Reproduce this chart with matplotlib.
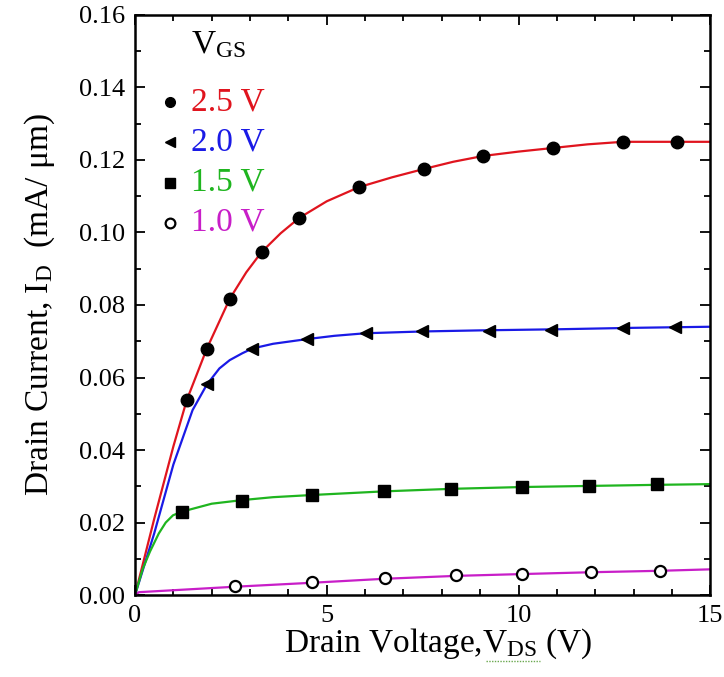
import matplotlib
matplotlib.use("Agg")
import matplotlib.pyplot as plt
from matplotlib.ticker import MultipleLocator, FormatStrFormatter
from matplotlib.lines import Line2D

plt.rcParams['font.family'] = ['Liberation Serif', 'DejaVu Serif']
plt.rcParams['mathtext.fontset'] = 'custom'
plt.rcParams['mathtext.rm'] = 'Liberation Serif'
plt.rcParams['mathtext.it'] = 'Liberation Serif:italic'

# Gate voltages and colours
vgs_labels = ["2.5 V", "2.0 V", "1.5 V", "1.0 V"]
colors = ["#e0141e", "#1a1ae6", "#1fb51f", "#c81ec8"]
markers = ["o", "<", "s", "o"]

# Measured points (V_DS in V, I_D in mA/um)
meas_x_25 = [1.35, 1.87, 2.47, 3.30, 4.28, 5.84, 7.53, 9.08, 10.90, 12.72, 14.14]
meas_y_25 = [0.0538, 0.0679, 0.0817, 0.0946, 0.1040, 0.1125, 0.1175, 0.1211, 0.1233, 0.1250, 0.1250]
meas_x_20 = [1.87, 3.06, 4.49, 6.02, 7.48, 9.22, 10.85, 12.72, 14.09]
meas_y_20 = [0.0582, 0.0679, 0.0706, 0.0723, 0.0728, 0.0728, 0.0731, 0.0737, 0.0739]
meas_x_15 = [1.22, 2.80, 4.62, 6.49, 8.25, 10.10, 11.83, 13.60]
meas_y_15 = [0.0229, 0.0259, 0.0276, 0.0287, 0.0292, 0.0298, 0.0301, 0.0306]
meas_x_10 = [2.60, 4.62, 6.51, 8.38, 10.10, 11.89, 13.70]
meas_y_10 = [0.0025, 0.0036, 0.0047, 0.0055, 0.0058, 0.0063, 0.0066]

# Model curves
model_x_25 = [0, 0.5, 1.0, 1.35, 1.87, 2.47, 2.9, 3.3, 3.8, 4.28, 5.0, 5.84, 6.7, 7.53, 8.3, 9.08, 10.0, 10.9, 11.8, 12.72, 15]
model_y_25 = [0, 0.021, 0.041, 0.0538, 0.0679, 0.0817, 0.0890, 0.0946, 0.0998, 0.1040, 0.1086, 0.1125, 0.1152, 0.1175, 0.1195, 0.1211, 0.1223, 0.1233, 0.1243, 0.1250, 0.1250]
model_x_20 = [0, 0.5, 1.0, 1.5, 1.87, 2.2, 2.47, 2.8, 3.06, 3.6, 4.49, 5.2, 6.0, 7.5, 9.0, 11.0, 13.0, 15]
model_y_20 = [0, 0.017, 0.036, 0.051, 0.058, 0.0625, 0.0648, 0.0667, 0.0680, 0.0693, 0.0706, 0.0715, 0.0722, 0.0727, 0.0730, 0.0733, 0.0737, 0.0740]
model_x_15 = [0, 0.2, 0.39, 0.62, 0.8, 0.99, 1.22, 2.0, 2.8, 3.6, 4.62, 6.49, 8.25, 10.1, 11.83, 13.6, 15]
model_y_15 = [0, 0.0072, 0.0120, 0.0170, 0.0200, 0.0220, 0.0230, 0.0252, 0.0262, 0.0270, 0.0276, 0.0286, 0.0293, 0.0298, 0.0301, 0.0304, 0.0306]
model_x_10 = [0, 0.1, 2.6, 4.62, 6.51, 8.38, 10.1, 11.89, 13.7, 15]
model_y_10 = [0, 0.0008, 0.0023, 0.0034, 0.0045, 0.0053, 0.0058, 0.0063, 0.0067, 0.0071]

meas = [(meas_x_25, meas_y_25), (meas_x_20, meas_y_20), (meas_x_15, meas_y_15), (meas_x_10, meas_y_10)]
models = [(model_x_25, model_y_25), (model_x_20, model_y_20), (model_x_15, model_y_15), (model_x_10, model_y_10)]

fig = plt.figure(figsize=(7.24, 6.77), dpi=100)
ax = fig.add_axes([0.1865, 0.121, 0.7945, 0.857])


def marker_style(i, size):
    if i == 3:
        return dict(ls="none", marker="o", ms=size, mfc="white", mec="black", mew=1.6)
    return dict(ls="none", marker=markers[i], ms=size, color="black")


marker_sizes = [9, 9, 8, 8]
for i in range(4):
    mx, my = models[i]
    ax.plot(mx, my, color=colors[i], lw=1.6, zorder=2)
    px, py = meas[i]
    ax.plot(px, py, zorder=3, **marker_style(i, marker_sizes[i]))

ax.set_xlim(0, 15)
ax.set_ylim(0, 0.16)
ax.xaxis.set_major_locator(MultipleLocator(5))
ax.xaxis.set_minor_locator(MultipleLocator(1))
ax.yaxis.set_major_locator(MultipleLocator(0.02))
ax.yaxis.set_minor_locator(MultipleLocator(0.01))
ax.yaxis.set_major_formatter(FormatStrFormatter("%.2f"))
ax.tick_params(which="both", direction="in", top=True, right=True, width=1.3,
               labelsize=19, pad=7)
ax.tick_params(which="major", length=7)
ax.tick_params(which="minor", length=4)
for lab in ax.get_xticklabels() + ax.get_yticklabels():
    lab.set_fontfamily("Liberation Serif")
for s in ax.spines.values():
    s.set_linewidth(1.8)

xl = ax.set_xlabel("Drain Voltage,V$_{\\mathregular{DS}}$ (V)", fontsize=24, labelpad=0)
ax.xaxis.set_label_coords(0.527, -0.055)
ax.set_ylabel("Drain Current, I$_{\\mathregular{D}}$  (mA/ \u03bcm)", fontsize=24, labelpad=16)

# Key: black markers with coloured gate-voltage labels
key_marker_x = 0.060
key_text_x = 0.098
key_rows = [0.850, 0.781, 0.711, 0.642]
ax.text(key_text_x, 0.948, "V$_{\\mathregular{GS}}$", transform=ax.transAxes,
        fontsize=24, ha="left", va="center")
for i in range(4):
    ax.plot([key_marker_x], [key_rows[i]], transform=ax.transAxes, clip_on=False,
            **marker_style(i, 7))
    ax.text(key_text_x, key_rows[i], vgs_labels[i], transform=ax.transAxes,
            fontsize=24, color=colors[i], ha="left", va="center")

# Dotted green underline beneath the subscript of the x label
fig.canvas.draw()
bb = xl.get_window_extent().transformed(fig.transFigure.inverted())
ux0 = bb.x0 + 0.655 * bb.width
ux1 = bb.x0 + 0.830 * bb.width
uy = bb.y0 + 0.001
fig.add_artist(Line2D([ux0, ux1], [uy, uy], transform=fig.transFigure,
                      color="#6aa84f", lw=1.0, ls=(0, (1, 1))))

fig.savefig("out.png", dpi=100)
